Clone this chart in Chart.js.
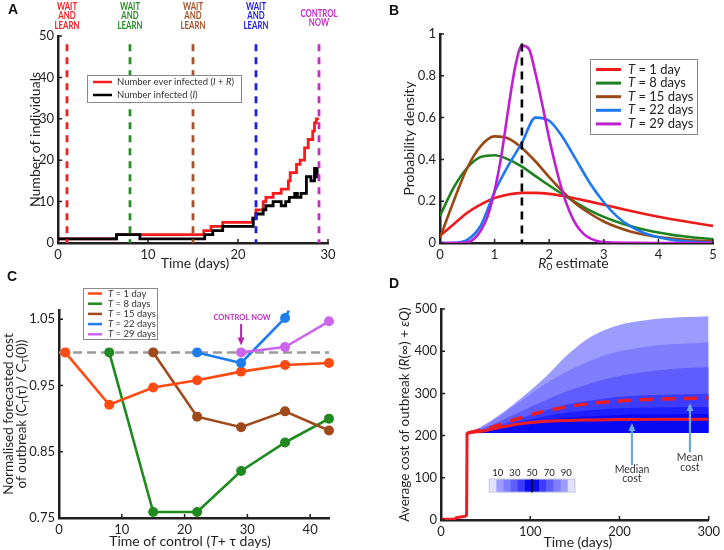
<!DOCTYPE html>
<html>
<head>
<meta charset="utf-8">
<title>Wait and learn vs control now</title>
<script src="https://cdn.jsdelivr.net/npm/chart.js@4.4.1/dist/chart.umd.min.js"></script>
<style>
  body { margin: 0; background: #fff; }
  #fig { position: relative; width: 724px; height: 550px; overflow: hidden; }
  #fig canvas { position: absolute; }
  .tag { position: absolute; font: bold 14px "Liberation Sans", Arial, sans-serif; line-height: 14px; color: #111; }
</style>
</head>
<body>
<div id="fig">
  <canvas id="panelA" width="362" height="275" style="left:0;top:0"></canvas>
  <canvas id="panelB" width="362" height="275" style="left:362px;top:0"></canvas>
  <canvas id="panelC" width="362" height="275" style="left:0;top:275px"></canvas>
  <canvas id="panelD" width="362" height="275" style="left:362px;top:275px"></canvas>
  <div class="tag" style="left:8px;top:2px">A</div>
  <div class="tag" style="left:389px;top:3px">B</div>
  <div class="tag" style="left:7px;top:269px">C</div>
  <div class="tag" style="left:389px;top:276px">D</div>
</div>
<script>
// ---- A: one simulated outbreak (day the count changes, new count) ----
const everInfDays   = [0, 6.5, 16.2, 17.0, 18.3, 21.6, 22.0, 22.8, 23.1, 23.9, 24.8, 25.6, 25.8, 26.5, 26.9, 27.4, 27.8, 28.3, 28.5, 28.7, 29.0];
const everInfCounts = [1, 2, 3, 4, 5, 6, 8, 10, 11, 12, 13, 15, 17, 19, 20, 23, 25, 27, 29, 30, 30];
const infDays   = [0, 6.5, 9.1, 16.3, 17.2, 18.3, 21.7, 22.0, 22.8, 23.1, 23.9, 24.8, 25.3, 25.7, 26.3, 26.6, 27.0, 27.6, 28.1, 28.5, 28.8, 29.0];
const infCounts = [1, 2, 1, 2, 3, 4, 6, 7, 8, 9, 10, 9, 10, 11, 12, 11, 12, 16, 15, 18, 16, 16];
const decisionDays = [1, 8, 15, 22, 29];
const decisionText = [['WAIT', 'AND', 'LEARN'], ['WAIT', 'AND', 'LEARN'], ['WAIT', 'AND', 'LEARN'], ['WAIT', 'AND', 'LEARN'], ['CONTROL', 'NOW']];
const decisionLineTop = 48;
const countTicks = [0, 10, 20, 30, 40, 50];
const dayTicksA = [0, 10, 20, 30];

// ---- B: posterior of R0 at different decision times ----
const r0Grid = [0, 0.25, 0.5, 0.75, 1, 1.25, 1.5, 1.75, 2, 2.25, 2.5, 2.75, 3, 3.25, 3.5, 3.75, 4, 4.25, 4.5, 4.75, 5];
const densT1  = [0.035, 0.09, 0.145, 0.185, 0.215, 0.232, 0.24, 0.24, 0.235, 0.225, 0.212, 0.198, 0.183, 0.168, 0.153, 0.139, 0.126, 0.114, 0.103, 0.092, 0.082];
const densT8  = [0.13, 0.265, 0.36, 0.412, 0.42, 0.4, 0.365, 0.32, 0.275, 0.232, 0.192, 0.155, 0.125, 0.1, 0.08, 0.063, 0.05, 0.039, 0.031, 0.024, 0.019];
const densT15 = [0.025, 0.2, 0.36, 0.465, 0.51, 0.5, 0.455, 0.39, 0.315, 0.245, 0.185, 0.14, 0.103, 0.075, 0.054, 0.04, 0.029, 0.021, 0.015, 0.011, 0.008];
const densT22 = [0, 0.001, 0.015, 0.085, 0.245, 0.37, 0.48, 0.6, 0.585, 0.505, 0.395, 0.285, 0.195, 0.125, 0.078, 0.047, 0.027, 0.015, 0.008, 0.004, 0.002];
const r0GridFine = [0, 0.25, 0.5, 0.625, 0.75, 0.875, 1, 1.125, 1.25, 1.375, 1.5, 1.625, 1.75, 1.875, 2, 2.125, 2.25, 2.375, 2.5, 2.625, 2.75, 2.875, 3, 3.5, 4, 5];
const densT29 = [0, 0, 0.003, 0.02, 0.06, 0.13, 0.25, 0.42, 0.64, 0.84, 0.945, 0.93, 0.81, 0.66, 0.5, 0.36, 0.24, 0.15, 0.085, 0.045, 0.022, 0.01, 0.004, 0.001, 0, 0];
const r0True = 1.5;
const r0TrueLineTop = 0.955;
const densTicks = [0, 0.2, 0.4, 0.6, 0.8, 1];
const r0Ticks = [0, 1, 2, 3, 4, 5];
const horizonLabels = ['1 day', '8 days', '15 days', '22 days', '29 days'];

// ---- C: normalised forecast cost vs time of control ----
const controlDays = [1, 8, 15, 22, 29, 36, 43];
const costT1  = [1.0, 0.921, 0.947, 0.958, 0.971, 0.981, 0.984];
const costT8  = [null, 1.0, 0.759, 0.759, 0.821, 0.864, 0.9];
const costT15 = [null, null, 1.0, 0.903, 0.887, 0.911, 0.882];
const costT22 = [null, null, null, 1.0, 0.984, 1.052, null];
const costT29 = [null, null, null, null, 1.0, 1.008, 1.047];
const costT22TrendEnd = { day: 36.6, cost: 1.063 };
const costTicks = [0.75, 0.85, 0.95, 1.05];
const controlTicks = [0, 10, 20, 30, 40];

// ---- D: cost of outbreak over time (percentile bands, median, mean) ----
const bandDays = [30, 40, 60, 80, 100, 120, 140, 160, 180, 200, 225, 250, 275, 300];
const costFloor = [206, 206, 206, 206, 206, 206, 206, 206, 206, 206, 206, 206, 206, 206];
const costQ95 = [206, 215, 241, 272, 307, 345, 388, 423, 447, 462, 472, 478, 481, 483];
const costQ90 = [206, 213, 238, 268, 298, 327, 351, 371, 388, 400, 409, 415, 418, 421];
const costQ80 = [206, 211, 228, 248, 268, 287, 304, 319, 331, 341, 350, 356, 360, 362];
const costQ70 = [206, 209, 220, 235, 249, 262, 273, 281, 287, 292, 295, 297, 298, 299];
const costQ60 = [206, 208, 216, 228, 238, 247, 254, 259, 262, 265, 266, 267, 268, 268];
const costQ55 = [206, 207, 213, 222, 230, 237, 242, 245, 247, 249, 250, 250, 251, 251];
const medianDays = [0, 15, 17, 22, 27, 28.7, 29.2, 40, 60, 80, 100, 130, 160, 200, 250, 300];
const medianCost = [2, 2, 5, 7, 9, 12, 205, 209, 217, 225, 231, 235, 237, 238, 239, 239];
const meanDays = [30, 40, 60, 80, 100, 125, 150, 175, 200, 225, 250, 275, 300];
const meanCost = [206, 211, 222, 236, 249, 262, 271, 278, 282, 285, 287, 288, 289];
const percentileLabels = [10, 30, 50, 70, 90];
const costTicksD = [0, 100, 200, 300, 400, 500];
const dayTicksD = [0, 100, 200, 300];

// ---- styling ----
const FONT = 'Lato, "Open Sans", "DejaVu Sans", sans-serif';
const AXIS = '#231f20';
const PAL_A = ['#ee2222', '#2a8f2a', '#a5522a', '#1f1fd6', '#c62dc6'];
const PAL_B = ['#ee1a1a', '#1d821d', '#994714', '#1f78f2', '#bf1fd0'];
const PAL_C = ['#ff4a12', '#1f8a1f', '#9e4a1c', '#1e7ef0', '#cc66ee'];
const BAND = ['#9c9cff', '#7e7eff', '#5e5eff', '#3c3cff', '#2020ff', '#0a0af2'];
const RED_D = '#ec1c24';

const pairs = (xs, ys) => xs.map((v, i) => ({ x: v, y: ys[i] })).filter(p => p.y !== null);
const font = (size, style) => (style || '') + ' ' + size + 'px ' + FONT;

function partFont(kind, size) {
  if (kind === 'i') return font(size, 'italic');
  if (kind === 'sub') return font(Math.round(size * 0.7));
  if (kind === 'b') return font(size, 'bold');
  return font(size);
}

// text with italic / subscript pieces, centred on (x, y) unless align is 'left'
function drawRich(ctx, parts, x, y, size, color, opts = {}) {
  ctx.save();
  ctx.translate(x, y);
  if (opts.rotate) ctx.rotate(opts.rotate);
  ctx.fillStyle = color;
  ctx.textBaseline = 'middle';
  ctx.textAlign = 'left';
  let w = 0;
  parts.forEach(([t, k]) => { ctx.font = partFont(k, size); w += ctx.measureText(t).width; });
  let cx = opts.align === 'left' ? 0 : -w / 2;
  parts.forEach(([t, k]) => {
    ctx.font = partFont(k, size);
    ctx.fillText(t, cx, k === 'sub' ? size * 0.3 : 0);
    cx += ctx.measureText(t).width;
  });
  ctx.restore();
}

function legendBox(ctx, x, y, w, h) {
  ctx.save();
  ctx.fillStyle = '#fff';
  ctx.strokeStyle = '#8a8a8a';
  ctx.lineWidth = 1;
  ctx.fillRect(x, y, w, h);
  ctx.strokeRect(x + 0.5, y + 0.5, w, h);
  ctx.restore();
}

function sampleLine(ctx, x1, x2, y, color, w) {
  ctx.save();
  ctx.strokeStyle = color;
  ctx.lineWidth = w;
  ctx.beginPath();
  ctx.moveTo(x1, y);
  ctx.lineTo(x2, y);
  ctx.stroke();
  ctx.restore();
}

function arrow(ctx, x, yFrom, yTo, color, w) {
  const dir = Math.sign(yTo - yFrom);
  ctx.save();
  ctx.strokeStyle = color;
  ctx.fillStyle = color;
  ctx.lineWidth = w;
  ctx.beginPath();
  ctx.moveTo(x, yFrom);
  ctx.lineTo(x, yTo - dir * 6);
  ctx.stroke();
  ctx.beginPath();
  ctx.moveTo(x, yTo);
  ctx.lineTo(x - 3.5, yTo - dir * 8);
  ctx.lineTo(x + 3.5, yTo - dir * 8);
  ctx.closePath();
  ctx.fill();
  ctx.restore();
}

// matlab-like tick marks pointing into the plot
const inwardTicks = {
  id: 'inwardTicks',
  afterDatasetsDraw(chart) {
    const { ctx, chartArea: a, scales: { x, y } } = chart;
    ctx.save();
    ctx.strokeStyle = AXIS;
    ctx.lineWidth = 1.5;
    ctx.beginPath();
    x.ticks.forEach(t => { const p = x.getPixelForValue(t.value); ctx.moveTo(p, a.bottom); ctx.lineTo(p, a.bottom - 4); });
    y.ticks.forEach(t => { const p = y.getPixelForValue(t.value); ctx.moveTo(a.left, p); ctx.lineTo(a.left + 4, p); });
    ctx.stroke();
    ctx.restore();
  }
};

function axis(min, max, ticks, size, fit) {
  return {
    type: 'linear', min, max,
    grid: { display: false, drawTicks: false },
    border: { color: AXIS, width: 2.5 },
    ticks: { color: AXIS, font: { family: FONT, size }, padding: 4, maxRotation: 0, callback: v => String(v) },
    afterBuildTicks: s => { s.ticks = ticks.map(v => ({ value: v })); },
    afterFit: fit
  };
}

function baseOptions(pad, xAxis, yAxis) {
  return {
    responsive: false,
    animation: false,
    events: [],
    layout: { padding: pad },
    plugins: { legend: { display: false }, tooltip: { enabled: false } },
    elements: { point: { radius: 0 } },
    scales: { x: xAxis, y: yAxis }
  };
}

// ================= A =================
const panelADecor = {
  id: 'panelADecor',
  afterDraw(chart) {
    const { ctx, chartArea: a, scales: { x } } = chart;
    decisionDays.forEach((d, i) => {
      const lines = decisionText[i];
      const cx = x.getPixelForValue(d);
      const y0 = 16 + (3 - lines.length) * 2 - (lines.length - 1) * 9.4 / 2;
      lines.forEach((t, k) => {
        ctx.save();
        ctx.translate(cx, y0 + k * 9.4);
        ctx.scale(0.74, 1);
        ctx.font = font(10.5, 'bold');
        ctx.fillStyle = PAL_A[i];
        ctx.textAlign = 'center';
        ctx.textBaseline = 'middle';
        ctx.fillText(t, 0, 0);
        ctx.restore();
      });
    });
    const lx = a.left + 29, ly = a.top + 39;
    legendBox(ctx, lx, ly, 154, 27);
    sampleLine(ctx, lx + 6, lx + 25, ly + 7, '#f41c1c', 2.5);
    sampleLine(ctx, lx + 6, lx + 25, ly + 20, '#000', 2.5);
    drawRich(ctx, [['Number ever infected (', ''], ['I', 'i'], [' + ', ''], ['R', 'i'], [')', '']], lx + 30, ly + 7, 9.5, '#333', { align: 'left' });
    drawRich(ctx, [['Number infected (', ''], ['I', 'i'], [')', '']], lx + 30, ly + 20, 9.5, '#333', { align: 'left' });
    drawRich(ctx, [['Time (days)', '']], (a.left + a.right) / 2 + 2, 263, 14, AXIS);
    drawRich(ctx, [['Number of individuals', '']], 35, (a.top + a.bottom) / 2, 14, AXIS, { rotate: -Math.PI / 2 });
  }
};

new Chart(document.getElementById('panelA'), {
  type: 'line',
  data: {
    datasets: [
      ...decisionDays.map((d, i) => ({
        data: [{ x: d, y: decisionLineTop }, { x: d, y: 0 }],
        borderColor: PAL_A[i], borderWidth: 2.8, borderDash: [7, 6]
      })),
      { data: pairs(infDays, infCounts), stepped: true, borderColor: '#000', borderWidth: 2.8 },
      { data: pairs(everInfDays, everInfCounts), stepped: true, borderColor: '#f41c1c', borderWidth: 2.8 }
    ]
  },
  options: baseOptions({ top: 36, right: 34 },
    axis(0, 30, dayTicksA, 13, s => { s.height = 32; }),
    axis(0, 50, countTicks, 13, s => { s.width = 58; })),
  plugins: [inwardTicks, panelADecor]
});

// ================= B =================
const panelBDecor = {
  id: 'panelBDecor',
  afterDraw(chart) {
    const { ctx, chartArea: a } = chart;
    const lx = a.left + 150, ly = a.top + 25;
    legendBox(ctx, lx, ly, 107, 75);
    horizonLabels.forEach((lab, i) => {
      const ry = ly + 10.5 + i * 13.6;
      sampleLine(ctx, lx + 6, lx + 31, ry, PAL_B[i], 3);
      drawRich(ctx, [['T', 'i'], [' = ' + lab, '']], lx + 38, ry, 13, '#222', { align: 'left' });
    });
    drawRich(ctx, [['R', 'i'], ['0', 'sub'], [' estimate', '']], (a.left + a.right) / 2 - 3, 263, 14, AXIS);
    drawRich(ctx, [['Probability density', '']], 47, (a.top + a.bottom) / 2, 14, AXIS, { rotate: -Math.PI / 2 });
  }
};

const curveB = (xs, ys, color) => ({ data: pairs(xs, ys), borderColor: color, borderWidth: 2.6, cubicInterpolationMode: 'monotone' });

new Chart(document.getElementById('panelB'), {
  type: 'line',
  data: {
    datasets: [
      { data: [{ x: r0True, y: r0TrueLineTop }, { x: r0True, y: 0 }], borderColor: '#000', borderWidth: 2.6, borderDash: [8, 6] },
      curveB(r0GridFine, densT29, PAL_B[4]),
      curveB(r0Grid, densT22, PAL_B[3]),
      curveB(r0Grid, densT15, PAL_B[2]),
      curveB(r0Grid, densT8, PAL_B[1]),
      curveB(r0Grid, densT1, PAL_B[0])
    ]
  },
  options: baseOptions({ top: 34, right: 11 },
    axis(0, 5, r0Ticks, 13, s => { s.height = 32; }),
    axis(0, 1, densTicks, 13, s => { s.width = 78; })),
  plugins: [inwardTicks, panelBDecor]
});

// ================= C =================
const panelCDecor = {
  id: 'panelCDecor',
  afterDraw(chart) {
    const { ctx, chartArea: a, scales: { x, y } } = chart;
    const lx = a.left + 24, ly = 13;
    legendBox(ctx, lx, ly, 74, 51);
    horizonLabels.forEach((lab, i) => {
      const ry = ly + 5.5 + i * 10.2;
      sampleLine(ctx, lx + 5, lx + 19, ry, PAL_C[i], 2.5);
      drawRich(ctx, [['T', 'i'], [' = ' + lab, '']], lx + 25, ry, 9.5, '#333', { align: 'left' });
    });
    const cx = x.getPixelForValue(29);
    ctx.save();
    ctx.font = font(7.5, 'bold');
    ctx.fillStyle = '#c030c0';
    ctx.textAlign = 'center';
    ctx.textBaseline = 'middle';
    ctx.fillText('CONTROL NOW', cx + 1, 43);
    ctx.restore();
    arrow(ctx, cx, 49, y.getPixelForValue(1.0) - 7, '#b02aa8', 2);
    drawRich(ctx, [['Time of control (', ''], ['T', 'i'], ['+ τ days)', '']], (a.left + a.right) / 2 - 4, 266, 14, AXIS);
    const my = (a.top + a.bottom) / 2;
    drawRich(ctx, [['Normalised forecasted cost', '']], 9, my, 13.5, AXIS, { rotate: -Math.PI / 2 });
    drawRich(ctx, [['of outbreak (C', ''], ['T', 'sub'], ['(τ) / C', ''], ['T', 'sub'], ['(0))', '']], 22, my, 13.5, AXIS, { rotate: -Math.PI / 2 });
  }
};

const curveC = (ys, color, extra) => {
  const pts = pairs(controlDays, ys);
  const radius = pts.map(() => 5);
  if (extra) { pts.push({ x: extra.day, y: extra.cost }); radius.push(0); }
  return {
    data: pts, borderColor: color, backgroundColor: color, borderWidth: 2.6, clip: false,
    pointRadius: radius, pointBackgroundColor: color, pointBorderWidth: 0
  };
};

new Chart(document.getElementById('panelC'), {
  type: 'line',
  data: {
    datasets: [
      curveC(costT29, PAL_C[4]),
      curveC(costT22, PAL_C[3], costT22TrendEnd),
      curveC(costT1, PAL_C[0]),
      curveC(costT15, PAL_C[2]),
      curveC(costT8, PAL_C[1]),
      { data: [{ x: 0, y: 1 }, { x: 43, y: 1 }], borderColor: '#9a9a9a', borderWidth: 2.5, borderDash: [9, 5] }
    ]
  },
  options: baseOptions({ top: 35, right: 33 },
    axis(0, 43, controlTicks, 13, s => { s.height = 32; }),
    axis(0.75, 1.064, costTicks, 13, s => { s.width = 59; })),
  plugins: [inwardTicks, panelCDecor]
});

// ================= D =================
const panelDDecor = {
  id: 'panelDDecor',
  afterDraw(chart) {
    const { ctx, chartArea: a, scales: { x, y } } = chart;
    // percentile colour key
    const bx1 = x.getPixelForValue(54), bx2 = x.getPixelForValue(150);
    const by1 = y.getPixelForValue(97), by2 = y.getPixelForValue(66);
    const keyColors = ['#e2e2ff', BAND[0], BAND[1], BAND[2], BAND[3], BAND[5], BAND[5], BAND[3], BAND[2], BAND[1], BAND[0], '#e2e2ff'];
    const sw = (bx2 - bx1) / keyColors.length;
    ctx.save();
    keyColors.forEach((c, i) => { ctx.fillStyle = c; ctx.fillRect(bx1 + i * sw, by1, sw + 0.5, by2 - by1); });
    ctx.strokeStyle = '#c8c8d8';
    ctx.lineWidth = 1;
    ctx.strokeRect(bx1, by1, bx2 - bx1, by2 - by1);
    ctx.strokeStyle = '#000';
    ctx.lineWidth = 1.5;
    ctx.beginPath();
    ctx.moveTo((bx1 + bx2) / 2, by1);
    ctx.lineTo((bx1 + bx2) / 2, by2);
    ctx.stroke();
    ctx.font = font(9.5);
    ctx.fillStyle = '#222';
    ctx.textAlign = 'center';
    ctx.textBaseline = 'middle';
    percentileLabels.forEach(p => ctx.fillText(String(p), bx1 + (bx2 - bx1) * p / 100, by1 - 6));
    ctx.restore();

    const blue = '#6fa8dc';
    const mx = x.getPixelForValue(214);
    arrow(ctx, mx, y.getPixelForValue(130), y.getPixelForValue(230), blue, 2.2);
    const nx = x.getPixelForValue(279);
    arrow(ctx, nx, y.getPixelForValue(161), y.getPixelForValue(277), blue, 2.2);
    [['Median', mx, 195], ['cost', mx, 204], ['Mean', nx, 183], ['cost', nx, 193]].forEach(([t, tx, ty]) =>
      drawRich(ctx, [[t, '']], tx, ty, 10.5, '#333'));

    drawRich(ctx, [['Time (days)', '']], (a.left + a.right) / 2 + 3, 267, 14, AXIS);
    drawRich(ctx, [['Average cost of outbreak (', ''], ['R', 'i'], ['(∞) + ', ''], ['εQ', 'i'], [')', '']],
      43, (a.top + a.bottom) / 2, 13.5, AXIS, { rotate: -Math.PI / 2 });
  }
};

const bandTops = [costQ95, costQ90, costQ80, costQ70, costQ60, costQ55];

new Chart(document.getElementById('panelD'), {
  type: 'line',
  data: {
    datasets: [
      { data: pairs(medianDays, medianCost), borderColor: RED_D, borderWidth: 3, cubicInterpolationMode: 'monotone', order: 0 },
      { data: pairs(meanDays, meanCost), borderColor: RED_D, borderWidth: 3.5, borderDash: [13, 9], cubicInterpolationMode: 'monotone', order: 0 },
      { data: pairs(bandDays, costFloor), borderWidth: 0, order: 20 },
      ...bandTops.map((b, i) => ({
        data: pairs(bandDays, b), fill: 2, backgroundColor: BAND[i], borderWidth: 0,
        cubicInterpolationMode: 'monotone', order: 10 - i
      }))
    ]
  },
  options: baseOptions({ top: 34, right: 11 },
    axis(0, 300, dayTicksD, 13, s => { s.height = 30; }),
    axis(0, 500, costTicksD, 13, s => { s.width = 79; })),
  plugins: [inwardTicks, panelDDecor]
});
</script>
</body>
</html>
